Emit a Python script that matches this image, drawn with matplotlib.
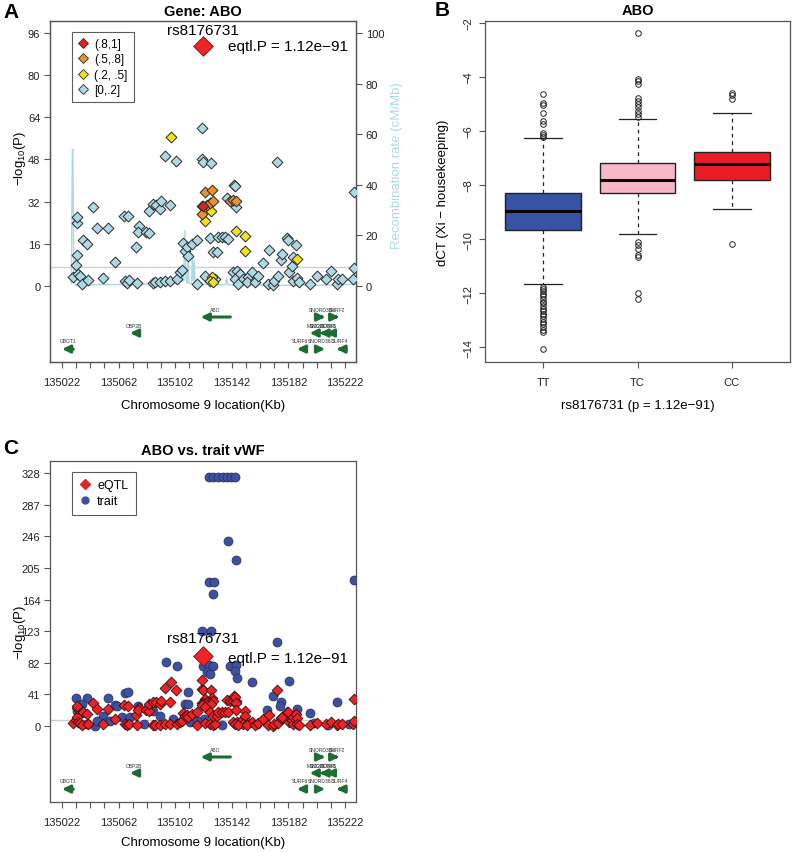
import numpy as np
import matplotlib
matplotlib.use('Agg')
import matplotlib.pyplot as plt
from matplotlib.lines import Line2D

plt.rcParams['font.family'] = ['Liberation Sans', 'DejaVu Sans']
plt.rcParams['mathtext.fontset'] = 'custom'
plt.rcParams['mathtext.rm'] = 'Liberation Sans'
plt.rcParams['mathtext.it'] = 'Liberation Sans'

# ---- eQTL SNPs (kb, -log10 P, LD class: 0=[0,.2] 1=(.2,.5] 2=(.5,.8] 3=(.8,1])
eqtl_kb = [135029.6, 135031.9, 135032.8, 135032.8, 135032.8, 135033.5, 135034.5, 135035.9,
           135037.0, 135039.5, 135040.2, 135043.7, 135047.0, 135051.2, 135054.7, 135059.7,
           135065.8, 135068.4, 135066.5, 135067.7, 135069.6, 135074.3, 135075.2, 135076.4,
           135075.9, 135081.4, 135083.7, 135083.7, 135086.5, 135086.1, 135087.7, 135088.4,
           135091.3, 135091.7, 135091.3, 135094.8, 135094.8, 135098.3, 135098.3, 135098.8,
           135102.6, 135103.0, 135105.4, 135106.6, 135107.7, 135108.9, 135110.1, 135111.3,
           135113.7, 135117.2, 135117.2, 135120.7, 135121.9, 135121.2, 135127.1, 135123.0,
           135127.8, 135120.7, 135121.9, 135124.3, 135126.6, 135128.9, 135120.7, 135127.3,
           135123.0, 135123.0, 135127.8, 135126.6, 135129.0, 135130.1, 135126.6, 135128.9,
           135131.3, 135132.5, 135134.9, 135137.2, 135139.5, 135138.8, 135140.7, 135143.0,
           135145.0, 135143.8, 135144.5, 135145.0, 135145.0, 135151.3, 135151.5, 135143.0,
           135145.5, 135147.8, 135144.3, 135150.1, 135153.7, 135156.0, 135146.6, 135152.5,
           135158.4, 135160.7, 135164.3, 135167.8, 135168.5, 135171.3, 135171.8, 135174.2,
           135174.9, 135176.5, 135177.2, 135181.2, 135181.9, 135182.6, 135184.3, 135185.0,
           135185.5, 135187.4, 135187.8, 135187.8, 135189.7, 135197.3, 135202.0, 135208.6,
           135211.9, 135216.6, 135217.3, 135219.7, 135227.9, 135228.4, 135228.4]
eqtl_p = [3.3, 8.0, 11.8, 23.9, 26.3, 4.6, 3.8, 0.8,
          17.6, 15.9, 2.4, 30.1, 22.0, 2.9, 22.0, 9.0,
          26.7, 26.4, 2.0, 1.1, 2.4, 14.7, 1.1, 22.9,
          20.4, 20.4, 20.1, 28.3, 31.1, 1.1, 1.4, 30.7,
          29.2, 32.4, 1.4, 2.0, 49.4, 30.7, 2.0, 56.7,
          47.3, 2.7, 5.2, 6.2, 16.3, 13.4, 14.7, 11.5,
          15.9, 17.6, 0.8, 48.2, 47.2, 59.8, 46.7, 35.5,
          36.4, 30.5, 30.2, 30.7, 31.5, 32.4, 27.3, 28.6,
          24.8, 3.9, 3.3, 2.0, 1.4, 2.7, 18.1, 12.8,
          12.8, 18.5, 18.5, 18.5, 17.8, 33.3, 32.4, 32.7,
          32.4, 38.4, 37.8, 29.9, 21.0, 19.1, 13.4, 5.2,
          5.8, 4.6, 2.7, 2.7, 3.3, 5.2, 0.8, 1.4,
          1.6, 3.9, 8.6, 0.8, 13.8, 0.4, 2.0, 46.9,
          3.7, 10.0, 12.1, 18.1, 17.6, 5.4, 7.7, 2.0,
          11.1, 15.6, 10.2, 2.9, 1.6, 0.8, 3.7, 2.7,
          5.6, 0.8, 2.7, 2.7, 2.7, 6.7, 35.5]
eqtl_ld = [0, 0, 0, 0, 0, 0, 0, 0,
           0, 0, 0, 0, 0, 0, 0, 0,
           0, 0, 0, 0, 0, 0, 0, 0,
           0, 0, 0, 0, 0, 0, 0, 0,
           0, 0, 0, 0, 0, 0, 0, 1,
           0, 0, 0, 0, 0, 0, 0, 0,
           0, 0, 0, 0, 0, 0, 0, 2,
           2, 2, 3, 2, 2, 2, 2, 1,
           1, 0, 1, 1, 1, 0, 0, 0,
           0, 0, 0, 0, 0, 0, 2, 2,
           2, 0, 0, 0, 1, 1, 1, 0,
           0, 0, 0, 0, 0, 0, 0, 0,
           0, 0, 0, 0, 0, 0, 0, 0,
           0, 0, 0, 0, 0, 0, 0, 0,
           0, 0, 1, 0, 0, 0, 0, 0,
           0, 0, 0, 0, 0, 0, 0]
lead_snp = 'rs8176731'
lead_kb = 135121.9
lead_p = 90.95
lead_text = 'eqtl.P = 1.12e\u221291'

ld_labels = ['[0,.2]', '(.2, .5]', '(.5,.8]', '(.8,1]']
ld_colors = ['#add8e6', '#f2e21e', '#e8912d', '#d7261e']

# ---- recombination rate (cM/Mb)
rec_kb = [135028.6, 135029.3, 135029.7, 135030.3, 135031.5, 135060.0, 135080.0, 135100.0,
          135103.5, 135104.3, 135105.0, 135106.5, 135107.3, 135108.0, 135108.9, 135109.6,
          135110.5, 135111.1, 135111.7, 135113.5, 135114.2, 135114.8, 135115.5, 135116.1,
          135120.0, 135137.5, 135138.4, 135139.2, 135160.0, 135200.0, 135215.0, 135229.0]
rec_rate = [1.0, 54.0, 54.0, 2.0, 0.5, 0.6, 0.8, 1.0,
            1.2, 7.0, 1.5, 2.0, 8.0, 2.0, 22.0, 3.0,
            1.0, 12.0, 1.0, 1.0, 11.0, 2.0, 10.0, 1.0,
            0.8, 0.5, 3.0, 0.5, 0.3, 0.3, 0.5, 0.8]

# ---- trait (vWF) association
trait_kb = [135126.1, 135128.9, 135132.5, 135135.6, 135138.4, 135141.4, 135144.5,
            135139.5, 135145.0, 135126.1, 135129.6, 135128.9, 135228.4, 135120.7, 135127.1,
            135173.7, 135095.3, 135103.0, 135121.9, 135126.1, 135128.9, 135124.7, 135126.6,
            135140.7, 135145.0, 135144.3, 135145.5, 135156.0, 135182.6, 135171.3, 135176.5,
            135176.0, 135216.6, 135197.3, 135167.1, 135187.8, 135066.5, 135068.9, 135054.3,
            135031.9, 135039.5, 135059.5, 135110.8, 135108.9, 135111.3, 135076.0, 135122.4,
            135045.3, 135050.2, 135086.5, 135091.3, 135100.7, 135112.5, 135035.9, 135032.4,
            135060.6, 135051.2, 135046.6, 135056.0, 135081.8, 135114.8, 135117.2, 135064.2,
            135070.0, 135040.0, 135080.0, 135135.0, 135160.0, 135200.0, 135210.0, 135225.0]
trait_p = [323, 323, 323, 323, 323, 323, 323,
           240.3, 215.2, 186.3, 186.3, 171.1, 189.3, 123.6, 123.6,
           108.5, 82.6, 78.2, 77.4, 79.1, 77.4, 69.6, 67.4,
           78.2, 79.1, 71.7, 61.8, 56.7, 58.7, 39.3, 30.7,
           26.3, 30.7, 16.5, 20.7, 22.0, 42.8, 43.7, 36.3,
           36.3, 36.3, 27.2, 43.7, 28.5, 28.5, 26.3, 9.0,
           0.5, 6.9, 19.8, 13.4, 9.0, 4.8, 28.5, 19.8,
           26.3, 12.6, 6.9, 6.9, 22.0, 13.4, 6.9, 11.3,
           11.3, 2.0, 3.0, 1.0, 2.0, 4.0, 1.0, 3.0]

# ---- genes
gene_names = ['GBGT1', 'OBP2B', 'ABO', 'SNORD36A', 'SURF2', 'MED22', 'SNORD36B', 'SURF1',
              'SURF6', 'SNORD36C', 'SURF4']
gene_start = [135022, 135070, 135120, 135204, 135214, 135197, 135204, 135208.5,
              135188, 135203, 135216]
gene_end = [135030, 135075, 135141, 135208, 135218, 135204, 135208.5, 135213.5,
            135193, 135208, 135220.5]
gene_strand = ['-', '-', '-', '+', '+', '-', '-', '-', '-', '+', '-']
gene_row = [3, 2, 1, 1, 1, 2, 2, 2, 3, 3, 3]

# ---- boxplot (panel B)
geno = ['TT', 'TC', 'CC']
box_q1 = [-9.66, -8.28, -7.83]
box_med = [-8.95, -7.83, -7.24]
box_q3 = [-8.28, -7.19, -6.77]
box_lo = [-11.67, -9.82, -8.90]
box_hi = [-6.26, -5.56, -5.33]
box_fliers = [
    [-4.62, -4.97, -5.05, -5.33, -5.64, -5.74, -6.06, -6.16, -6.22,
     -11.76, -11.85, -11.93, -12.04, -12.12, -12.22, -12.31, -12.38, -12.47, -12.58,
     -12.66, -12.77, -12.85, -12.96, -13.05, -13.14, -13.26, -13.35, -13.44, -14.06],
    [-2.37, -4.07, -4.15, -4.26, -4.78, -4.88, -5.00, -5.12, -5.25, -5.37, -5.48,
     -10.09, -10.23, -10.38, -10.58, -10.67, -11.99, -12.21],
    [-4.58, -4.66, -4.80, -10.17],
]
box_colors = ['#3953a4', '#f9b8c8', '#ec1c24']

green = '#1e6b34'
axis_col = '#555555'
row_arrow_y = {1: 0.132, 2: 0.085, 3: 0.038}
row_label_y = {1: 0.153, 2: 0.106, 3: 0.062}

fig = plt.figure(figsize=(7.92, 8.53), dpi=100)


def style_axes(ax):
    for s in ax.spines.values():
        s.set_color(axis_col)
        s.set_linewidth(0.9)
    ax.tick_params(colors='#222222', length=4.5, width=0.8, labelsize=8, direction='out',
                   pad=2.5)
    ax.tick_params(axis='both', color=axis_col)


def locus_axes(ax, ymin, ymax, yticks, xlab_y):
    ax.set_xlim(135013.5, 135229.8)
    ax.set_ylim(ymin, ymax)
    ax.set_yticks(yticks)
    ax.set_yticklabels([str(t) for t in yticks])
    xt = np.arange(135022, 135223, 10)
    ax.set_xticks(xt)
    ax.set_xticklabels([str(t) if (t - 135022) % 40 == 0 else '' for t in xt])
    ax.axhline(7.3, color='#cfcfcf', lw=1.0, zorder=1)
    ax.set_xlabel('Chromosome 9 location(Kb)', fontsize=9.5, va='center')
    ax.xaxis.set_label_coords(0.5, xlab_y)
    style_axes(ax)
    ax.tick_params(axis='x', pad=6)
    # gene track
    for name, st, en, sd, r in zip(gene_names, gene_start, gene_end, gene_strand, gene_row):
        y = row_arrow_y[r]
        tail, head = (en, st) if sd == '-' else (st, en)
        ax.annotate('', xy=(head, y), xytext=(tail, y),
                    xycoords=('data', 'axes fraction'), textcoords=('data', 'axes fraction'),
                    arrowprops=dict(arrowstyle='-|>,head_length=0.45,head_width=0.22',
                                    lw=2.2, color=green, shrinkA=0, shrinkB=0))
        t = ax.text((st + en) / 2, row_label_y[r], name, fontsize=3.6, color='#333333',
                    ha='center', va='center', transform=ax.get_xaxis_transform())
        t.set_clip_on(True)


# ================= Panel A
axA = fig.add_axes([0.0631, 0.5744, 0.3864, 0.3998])
locus_axes(axA, -28.8, 100.5, list(range(0, 97, 16)), -0.126)
axA.set_ylabel(r'$-\mathrm{log}_{10}(\mathrm{P})$', fontsize=9.5, va='center')
axA.yaxis.set_label_coords(-0.098, 0.6)

axR = axA.twinx()
axR.set_ylim(-28.8 * 100 / 96, 100.5 * 100 / 96)
axR.set_yticks(list(range(0, 101, 20)))
axR.plot(rec_kb, rec_rate, color='#add8e6', lw=1.0, zorder=1)
style_axes(axR)
axR.set_ylabel('Recombination rate (cM/Mb)', color='#add8e6', fontsize=9.5, rotation=90,
               va='center')
axR.yaxis.set_label_coords(1.134, 0.58)
axA.set_zorder(axR.get_zorder() + 1)
axA.patch.set_visible(False)

kb = np.array(eqtl_kb)
pv = np.array(eqtl_p)
ld = np.array(eqtl_ld)
for c in range(4):
    m = ld == c
    axA.scatter(kb[m], pv[m], marker='D', s=30, facecolor=ld_colors[c],
                edgecolor='#2a2a2a', linewidths=0.7, zorder=3 + c)
axA.scatter([lead_kb], [lead_p], marker='D', s=100, facecolor='#f02424',
            edgecolor='#8a1010', linewidths=0.6, zorder=9)
axA.annotate(lead_snp, xy=(lead_kb, lead_p), xytext=(0, 12), textcoords='offset points',
             ha='center', va='center', fontsize=11)
axA.annotate(lead_text, xy=(lead_kb, lead_p), xytext=(18, 0), textcoords='offset points',
             ha='left', va='center', fontsize=11)

handles = [Line2D([], [], marker='D', ls='none', markersize=5, markerfacecolor=ld_colors[c],
                  markeredgecolor='#2a2a2a', markeredgewidth=0.6) for c in [3, 2, 1, 0]]
legA = axA.legend(handles, [ld_labels[c] for c in [3, 2, 1, 0]], loc='upper left',
                  bbox_to_anchor=(0.072, 0.968), fontsize=8.5, frameon=True, fancybox=False,
                  handlelength=0.9, handletextpad=0.5, labelspacing=0.3, borderpad=0.5,
                  borderaxespad=0)
legA.get_frame().set_edgecolor('#333333')
legA.get_frame().set_linewidth(0.8)

# ================= Panel B
axB = fig.add_axes([0.6124, 0.5744, 0.3851, 0.3998])
stats = []
for i in range(3):
    stats.append(dict(med=box_med[i], q1=box_q1[i], q3=box_q3[i], whislo=box_lo[i],
                      whishi=box_hi[i], fliers=box_fliers[i], label=geno[i]))
bp = axB.bxp(stats, positions=[1, 2, 3], widths=0.8, capwidths=0.4, patch_artist=True,
             boxprops=dict(edgecolor='#222222', linewidth=1.0),
             medianprops=dict(color='black', linewidth=2.2),
             whiskerprops=dict(color='#222222', linestyle=(0, (3, 3)), linewidth=0.9),
             capprops=dict(color='#222222', linewidth=0.9),
             flierprops=dict(marker='o', markersize=4, markerfacecolor='none',
                             markeredgecolor='#222222', markeredgewidth=0.7))
for patch, col in zip(bp['boxes'], box_colors):
    patch.set_facecolor(col)
axB.set_xlim(0.385, 3.615)
axB.set_ylim(-14.55, -1.93)
axB.set_yticks(list(range(-14, -1, 2)))
axB.set_yticklabels(['\u2212' + str(-t) for t in range(-14, -1, 2)], rotation=90, va='center')
style_axes(axB)
axB.tick_params(axis='x', pad=6)
axB.tick_params(axis='y', pad=4)
axB.set_xlabel('rs8176731 (p = 1.12e\u221291)', fontsize=9.5, va='center')
axB.xaxis.set_label_coords(0.5, -0.126)
axB.set_ylabel('dCT (Xi \u2212 housekeeping)', fontsize=9.5, va='center')
axB.yaxis.set_label_coords(-0.138, 0.5)

# ================= Panel C
axC = fig.add_axes([0.0631, 0.0586, 0.3864, 0.3998])
locus_axes(axC, -98.5, 343.6, list(range(0, 329, 41)), -0.117)
axC.set_ylabel(r'$-\mathrm{log}_{10}(\mathrm{P})$', fontsize=9.5, va='center')
axC.yaxis.set_label_coords(-0.098, 0.5)
axC.scatter(trait_kb, trait_p, marker='o', s=42, facecolor='#3c51a0',
            edgecolor='#2a2a55', linewidths=0.5, zorder=3)
axC.scatter(eqtl_kb, eqtl_p, marker='D', s=30, facecolor='#ec2227',
            edgecolor='#3a0a0a', linewidths=0.6, zorder=4)
axC.scatter([lead_kb], [lead_p], marker='D', s=100, facecolor='#f02424',
            edgecolor='#8a1010', linewidths=0.6, zorder=9)
axC.annotate(lead_snp, xy=(lead_kb, lead_p), xytext=(0, 13), textcoords='offset points',
             ha='center', va='center', fontsize=11)
axC.annotate(lead_text, xy=(lead_kb, lead_p), xytext=(18, -1.5), textcoords='offset points',
             ha='left', va='center', fontsize=11)
handlesC = [Line2D([], [], marker='D', ls='none', markersize=5, markerfacecolor='#d42a2a',
                   markeredgecolor='#d42a2a'),
            Line2D([], [], marker='o', ls='none', markersize=5, markerfacecolor='#3c51a0',
                   markeredgecolor='#3c51a0')]
legC = axC.legend(handlesC, ['eQTL', 'trait'], loc='upper left', bbox_to_anchor=(0.072, 0.968),
                  fontsize=9, frameon=True, fancybox=False, handlelength=0.9,
                  handletextpad=0.5, labelspacing=0.3, borderpad=0.6, borderaxespad=0)
legC.get_frame().set_edgecolor('#333333')
legC.get_frame().set_linewidth(0.8)

# titles and panel letters
fig.text(203 / 792, 1 - 12 / 853, 'Gene: ABO', ha='center', va='center', fontsize=10.5,
         fontweight='bold')
fig.text(638 / 792, 1 - 11 / 853, 'ABO', ha='center', va='center', fontsize=10.5,
         fontweight='bold')
fig.text(203 / 792, 1 - 451 / 853, 'ABO vs. trait vWF', ha='center', va='center',
         fontsize=10.5, fontweight='bold')
fig.text(3 / 792, 1 - 13 / 853, 'A', ha='left', va='center', fontsize=15, fontweight='bold')
fig.text(435 / 792, 1 - 11 / 853, 'B', ha='left', va='center', fontsize=15, fontweight='bold')
fig.text(3 / 792, 1 - 449 / 853, 'C', ha='left', va='center', fontsize=15, fontweight='bold')

fig.savefig('out.png', dpi=100)
